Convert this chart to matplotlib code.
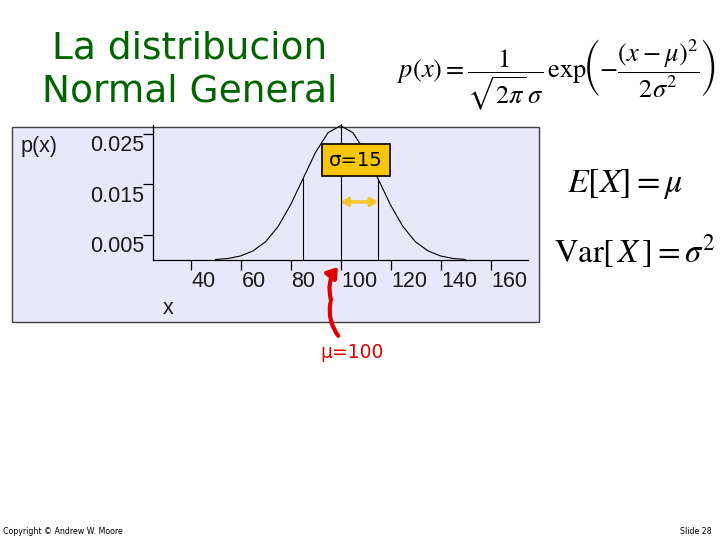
import numpy as np
import matplotlib
matplotlib.use("Agg")
import matplotlib.pyplot as plt
from matplotlib.patches import Rectangle, FancyArrowPatch
from matplotlib.transforms import offset_copy

# values (mu = 100, sigma = 15)
x_vals = [50, 55, 60, 65, 70, 75, 80, 85, 90, 95, 100,
          105, 110, 115, 120, 125, 130, 135, 140, 145, 150]
p_vals = [0.0001, 0.0003, 0.0008, 0.0018, 0.0036, 0.0066, 0.0109, 0.0161, 0.0213, 0.0252, 0.0266,
          0.0252, 0.0213, 0.0161, 0.0109, 0.0066, 0.0036, 0.0018, 0.0008, 0.0003, 0.0001]
mu = 100
sigma = 15
sigma_marks = [85, 100, 115]
sigma_heights = [0.0161, 0.0270, 0.0161]
xticks = [40, 60, 80, 100, 120, 140, 160]
yticks = [0.025, 0.015, 0.005]
ytick_labels = ["0.025", "0.015", "0.005"]

W, H = 720, 540
fig = plt.figure(figsize=(7.2, 5.4), dpi=100)
fig.patch.set_facecolor("white")

def fx(px):
    return px / W

def fy(py):
    return 1 - py / H

# lavender panel behind the plot
panel = Rectangle((fx(12), fy(322)), fx(539) - fx(12), fy(127) - fy(322),
                  transform=fig.transFigure, facecolor="#e8e8fa",
                  edgecolor="#404040", lw=1.0, zorder=-1)
fig.patches.append(panel)

ylim_top = 0.0268
ax_h = ylim_top * 5050  # pixels
ax = fig.add_axes([fx(153), fy(260), fx(528) - fx(153), ax_h / H])
ax.set_facecolor("none")
ax.set_xlim(25, 175)
ax.set_ylim(0, ylim_top)
for s in ["top", "right"]:
    ax.spines[s].set_visible(False)
ax.spines["left"].set_linewidth(0.9)
ax.spines["bottom"].set_linewidth(0.9)

ax.plot(x_vals, p_vals, color="black", lw=0.8, clip_on=False)
for xm, hm in zip(sigma_marks, sigma_heights):
    ax.plot([xm, xm], [0, hm], color="black", lw=0.8, clip_on=False)

ax.set_xticks(xticks)
ax.set_yticks(yticks)
ax.tick_params(axis="both", length=7, width=0.9, labelbottom=False, labelleft=False)

tick_font = dict(family="Liberation Sans", fontsize=15.5, color="#1a1a1a")
tx = offset_copy(ax.get_xaxis_transform(), fig=fig, x=1, y=-11, units="dots")
for t in xticks:
    ax.text(t, 0, str(t), transform=tx, ha="left", va="top", **tick_font)
ty = offset_copy(ax.get_yaxis_transform(), fig=fig, x=-9, y=-12, units="dots")
for v, lab in zip(yticks, ytick_labels):
    ax.text(0, v, lab, transform=ty, ha="right", va="center", **tick_font)

fig.text(fx(39), fy(147), "p(x)", ha="center", va="center", **tick_font)
fig.text(fx(168), fy(309), "x", ha="center", va="center", **tick_font)

# sigma box and arrow
ax.text(106.2, 0.0198, r"σ=15", ha="center", va="center", fontsize=14,
        family="DejaVu Sans", color="black",
        bbox=dict(boxstyle="square,pad=0.35", facecolor="#f7c600", edgecolor="black", lw=1.2))
ax.annotate("", xy=(mu + sigma, 0.0115), xytext=(mu, 0.0115),
            arrowprops=dict(arrowstyle="<|-|>,head_length=0.4,head_width=0.25",
                            color="#f5c52a", lw=2.5, shrinkA=0, shrinkB=0))

# red mu arrow
red = "#e00000"
arr = FancyArrowPatch((fx(340), fy(338)), (fx(331), fy(300)), transform=fig.transFigure,
                      connectionstyle="arc3,rad=-0.25", arrowstyle="-", color=red, lw=3.0,
                      zorder=5)
fig.patches.append(arr)
arr2 = FancyArrowPatch((fx(331), fy(300)), (fx(338), fy(267)), transform=fig.transFigure,
                       connectionstyle="arc3,rad=-0.25",
                       arrowstyle="-|>,head_length=6,head_width=4", color=red, lw=3.0,
                       shrinkA=0, shrinkB=0, zorder=5)
fig.patches.append(arr2)
fig.text(fx(352), fy(353), "μ=100", ha="center", va="center", fontsize=13.5,
         family="DejaVu Sans", color=red)

# title
fig.text(fx(190), fy(70), "La distribucion\nNormal General", ha="center", va="center",
         fontsize=27, family="DejaVu Sans", color="#006400", linespacing=1.25)

# formulas
plt.rcParams["mathtext.fontset"] = "stix"
fig.text(fx(557), fy(75),
         r"$p(x) = \dfrac{1}{\sqrt{2\pi}\,\sigma}\,\mathrm{exp}\!\left(-\dfrac{(x-\mu)^2}{2\sigma^2}\right)$",
         ha="center", va="center", fontsize=19, color="black")
fig.text(fx(625), fy(184), r"$E[X] = \mu$", ha="center", va="center", fontsize=24.5, color="black")
fig.text(fx(635), fy(251), r"$\mathrm{Var}[\,X\,] = \sigma^2$", ha="center", va="center",
         fontsize=23.5, color="black")

# footer
fig.text(fx(3), fy(532), "Copyright © Andrew W. Moore", ha="left", va="center",
         fontsize=5.7, family="DejaVu Sans", color="black")
fig.text(fx(712), fy(532), "Slide 28", ha="right", va="center",
         fontsize=5.7, family="DejaVu Sans", color="black")

fig.savefig("out.png", dpi=100)
